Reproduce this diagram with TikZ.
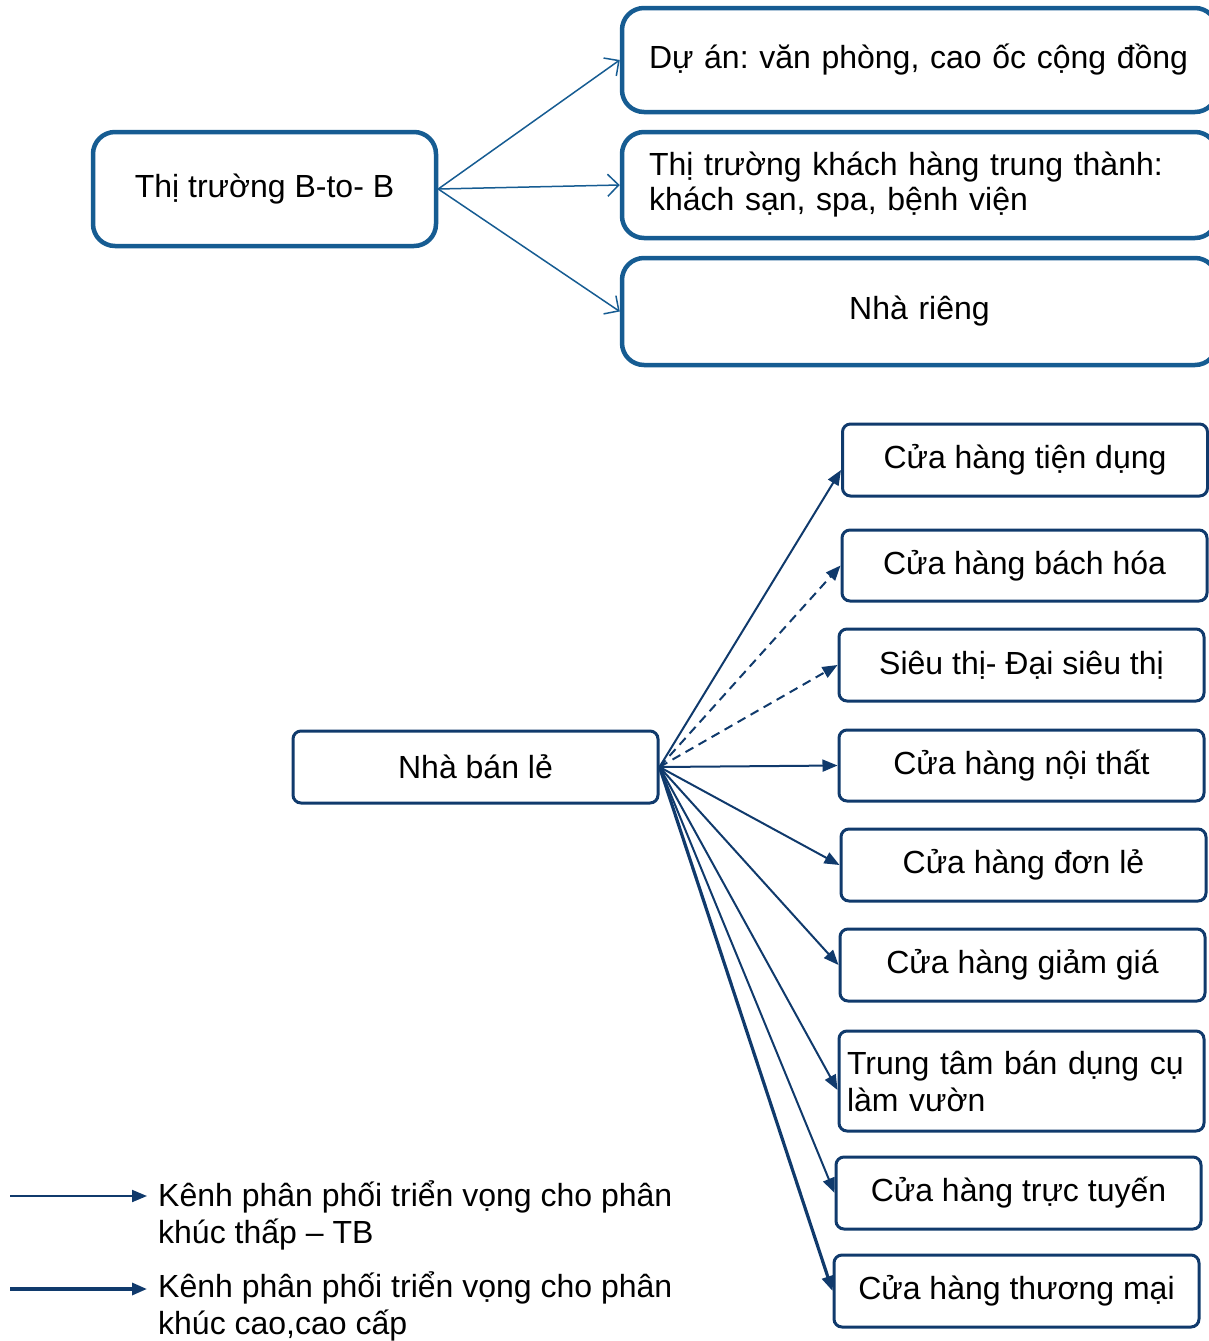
\documentclass[tikz,border=0pt]{standalone}
\usepackage{fontspec}
\setmainfont{Liberation Sans}
\usetikzlibrary{arrows.meta}
\definecolor{topblue}{RGB}{22,92,146}
\definecolor{navy}{RGB}{16,58,108}
\frenchspacing

\begin{document}
\begin{tikzpicture}[x=1pt, y=-1pt,
  topbox/.style={draw=topblue, line width=4.5pt, rounded corners=22pt, inner xsep=27pt, inner ysep=0pt, font=\fontsize{32}{35}\selectfont},
  shopbox/.style={draw=navy, line width=3pt, rounded corners=8pt, minimum width=365pt, minimum height=72pt, inner sep=0pt, font=\fontsize{32}{37}\selectfont},
  toplink/.style={draw=topblue, line width=1.5pt, -{Straight Barb[length=11pt,width=22pt]}},
  shoplink/.style={draw=navy, line width=2pt, -{Triangle[length=15pt,width=12pt]}},
  legtext/.style={anchor=west, align=left, inner sep=6pt, font=\fontsize{32}{37}\selectfont}]

\useasboundingbox (0,0) rectangle (1209,1341);
\clip (0,0) rectangle (1209,1341);

\node[topbox, minimum width=343pt, minimum height=114pt] (b2b) at (264.5,189) {Thị trường B-to- B};
\node[topbox, text width=541pt, minimum height=104pt, align=left] (duan) at (919.5,60) {Dự án: văn phòng, cao ốc cộng đồng};
\node[topbox, text width=541pt, minimum height=106pt, align=left] (ttkh) at (919.5,185) {Thị trường khách hàng trung thành:\\khách sạn, spa, bệnh viện};
\node[topbox, text width=541pt, minimum height=107pt, align=center] (nharieng) at (919.5,311.5) {Nhà riêng};

\draw[toplink] (b2b.east) -- (duan.west);
\draw[toplink] (b2b.east) -- (ttkh.west);
\draw[toplink] (b2b.east) -- (nharieng.west);

\node[shopbox] (nbl) at (475.5,767) {Nhà bán lẻ};
\node[shopbox] (r1) at (1025,460) {Cửa hàng tiện dụng};
\node[shopbox, minimum height=71pt] (r2) at (1024.5,565.5) {Cửa hàng bách hóa};
\node[shopbox] (r3) at (1021.5,665) {Siêu thị- Đại siêu thị};
\node[shopbox, minimum height=71pt] (r4) at (1021.5,765.5) {Cửa hàng nội thất};
\node[shopbox] (r5) at (1023.5,865) {Cửa hàng đơn lẻ};
\node[shopbox] (r6) at (1022.5,965) {Cửa hàng giảm giá};
\node[shopbox, minimum height=100pt, inner xsep=8pt, text width=349pt, align=left] (r7) at (1021.5,1081) {Trung tâm bán dụng cụ\\làm vườn};
\node[shopbox] (r8) at (1018.5,1193) {Cửa hàng trực tuyến};
\node[shopbox] (r9) at (1016.5,1291) {Cửa hàng thương mại};

\draw[shoplink] (nbl.east) -- ([yshift=-10pt]r1.west);
\draw[shoplink, dashed, dash pattern=on 9pt off 6pt] (nbl.east) -- (r2.west);
\draw[shoplink, dashed, dash pattern=on 9pt off 6pt] (nbl.east) -- (r3.west);
\foreach \shop in {r4,r5,r6,r8}
  \draw[shoplink] (nbl.east) -- (\shop.west);
\draw[shoplink] (nbl.east) -- ([yshift=-9pt]r7.west);
\draw[shoplink, line width=3.2pt] (nbl.east) -- (r9.west);

\coordinate (k1a) at (10,1196);
\coordinate (k1b) at (147,1196);
\coordinate (k2a) at (10,1289);
\coordinate (k2b) at (147,1289);
\draw[shoplink] (k1a) -- (k1b);
\draw[shoplink, line width=3.2pt] (k2a) -- (k2b);
\node[legtext] (k1) at (152,1215) {Kênh phân phối triển vọng cho phân\\khúc thấp – TB};
\node[legtext] (k2) at (152,1306) {Kênh phân phối triển vọng cho phân\\khúc cao,cao cấp};

\end{tikzpicture}
\end{document}
